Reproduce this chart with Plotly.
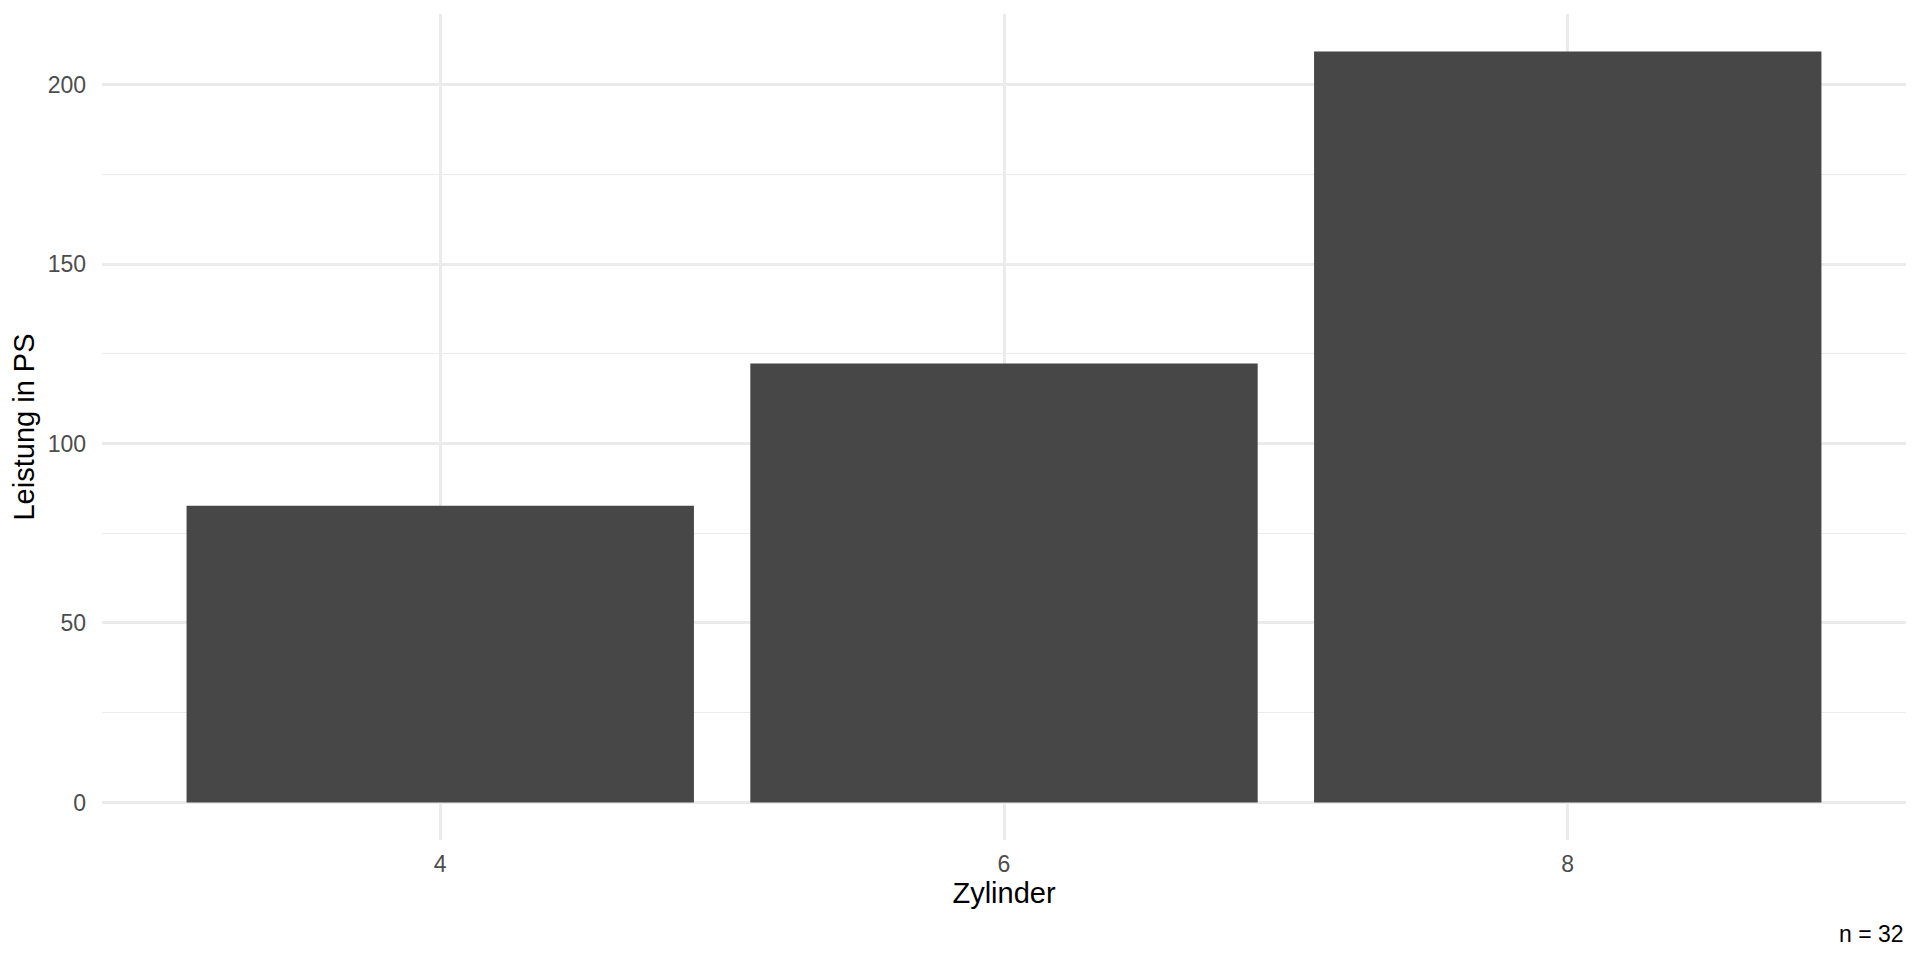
import plotly.graph_objects as go

# Mean horsepower per cylinder count (mtcars)
zylinder = ["4", "6", "8"]
leistung_ps = [82.64, 122.29, 209.21]
caption = "n = 32"

FONT = "Liberation Sans, Arial, sans-serif"
GRID = "#EBEBEB"

fig = go.Figure(
    go.Bar(
        x=zylinder,
        y=leistung_ps,
        marker=dict(color="#474747", line=dict(width=0)),
        width=0.9,
        hovertemplate="Zylinder %{x}<br>%{y:.1f} PS<extra></extra>",
    )
)

ymax = max(leistung_ps)
pad = ymax * 0.05

# page body has an 8px margin, so the figure is a bit smaller than the window
fig.update_layout(
    width=1912,
    height=952,
    plot_bgcolor="white",
    paper_bgcolor="white",
    margin=dict(l=94, r=14, t=6, b=120, autoexpand=False),
    font=dict(family=FONT, color="#4D4D4D", size=23),
    showlegend=False,
    xaxis=dict(
        type="category",
        range=[-0.6, 2.6],
        showgrid=True,
        gridcolor=GRID,
        gridwidth=2.7,
        zeroline=False,
        showline=False,
        ticks="",
        automargin=False,
        ticklabelstandoff=8,
        tickfont=dict(size=23, color="#4D4D4D"),
        title=dict(text="Zylinder", font=dict(size=29, color="black"), standoff=6),
    ),
    yaxis=dict(
        range=[-pad, ymax + pad],
        tickvals=[0, 50, 100, 150, 200],
        showgrid=True,
        gridcolor=GRID,
        gridwidth=2.7,
        minor=dict(tickvals=[25, 75, 125, 175], showgrid=True, gridcolor=GRID, gridwidth=1.4),
        zeroline=False,
        showline=False,
        ticks="",
        automargin=False,
        ticklabelstandoff=15,
        tickfont=dict(size=23, color="#4D4D4D"),
        title=dict(text="Leistung in PS", font=dict(size=29, color="black"), standoff=10),
    ),
    annotations=[
        dict(
            text=caption,
            xref="paper",
            yref="paper",
            x=1,
            y=-94 / 826,
            xanchor="right",
            yanchor="middle",
            showarrow=False,
            font=dict(size=23, color="black", family=FONT),
        )
    ],
)

fig.write_html("out.html")
